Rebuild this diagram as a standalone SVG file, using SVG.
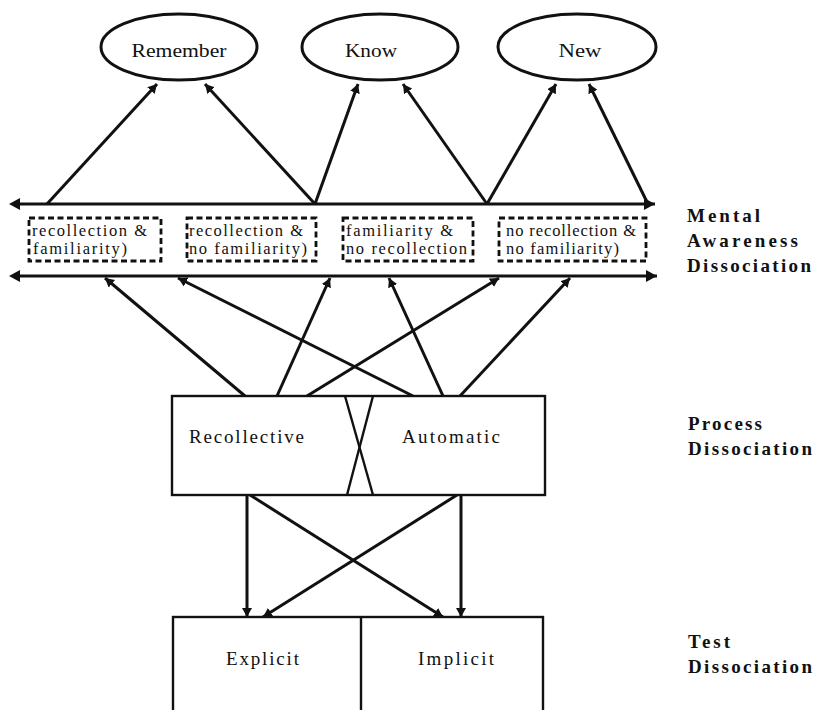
<svg xmlns="http://www.w3.org/2000/svg" width="813" height="710" viewBox="0 0 813 710">
<style>
.ln{stroke:#111;stroke-width:3;fill:none;marker-end:url(#ah)}
.hl{stroke:#111;stroke-width:3;fill:none;marker-end:url(#ahb)}
.bx{stroke:#111;stroke-width:2.4;fill:#fff}
.xl{stroke:#111;stroke-width:2.4}
.el{stroke:#111;stroke-width:3;fill:#fff}
.dash{stroke:#111;stroke-width:2.8;fill:none;stroke-dasharray:6 3.5}
.t{font-family:"Liberation Serif",serif;font-size:19px;fill:#111}
.lab{font-family:"Liberation Serif",serif;font-weight:bold;font-size:19px;fill:#111}
.bt{font-family:"Liberation Serif",serif;font-size:16.5px;fill:#111}
</style>
<defs>
<marker id="ah" markerUnits="userSpaceOnUse" markerWidth="10" markerHeight="10" refX="9" refY="5" orient="auto">
<path d="M0,0 L9,5 L0,10 Z" fill="#111"/>
</marker>
<marker id="ahb" markerUnits="userSpaceOnUse" markerWidth="12" markerHeight="12" refX="11" refY="6" orient="auto">
<path d="M0,0 L11,6 L0,12 Z" fill="#111"/>
</marker>
</defs>
<rect width="813" height="710" fill="#fff"/>

<g id="connectors">
<line class="ln" x1="47" y1="204" x2="157" y2="84"/>
<line class="ln" x1="315" y1="204" x2="205" y2="84"/>
<line class="ln" x1="315" y1="204" x2="358" y2="84"/>
<line class="ln" x1="487" y1="204" x2="403" y2="84"/>
<line class="ln" x1="487" y1="204" x2="556" y2="84"/>
<line class="ln" x1="648" y1="204" x2="589" y2="84"/>
<line class="hl" x1="20" y1="204" x2="655" y2="204"/>
<line class="hl" x1="20" y1="276" x2="657" y2="276"/>
<path d="M9,204 L20,198 L20,210 Z" fill="#111"/>
<path d="M9,276 L20,270 L20,282 Z" fill="#111"/>
<line class="ln" x1="245" y1="396" x2="105" y2="278"/>
<line class="ln" x1="413" y1="396" x2="178" y2="278"/>
<line class="ln" x1="277" y1="396" x2="330" y2="278"/>
<line class="ln" x1="443" y1="396" x2="389" y2="278"/>
<line class="ln" x1="307" y1="396" x2="499" y2="278"/>
<line class="ln" x1="460" y1="396" x2="570" y2="278"/>
<line class="ln" x1="247" y1="495" x2="247" y2="617"/>
<line class="ln" x1="461" y1="495" x2="461" y2="617"/>
<line class="ln" x1="250" y1="495" x2="443" y2="617"/>
<line class="ln" x1="457" y1="495" x2="263" y2="617"/>
</g>

<g id="remember">
<ellipse class="el" cx="179" cy="47" rx="78" ry="33"/>
<text class="t" x="179" y="57" text-anchor="middle" textLength="95" lengthAdjust="spacingAndGlyphs">Remember</text>
</g>
<g id="know">
<ellipse class="el" cx="380" cy="47" rx="78" ry="33"/>
<text class="t" x="371" y="57" text-anchor="middle" textLength="52" lengthAdjust="spacingAndGlyphs">Know</text>
</g>
<g id="new">
<ellipse class="el" cx="577" cy="47" rx="79" ry="33"/>
<text class="t" x="580" y="57" text-anchor="middle" textLength="43" lengthAdjust="spacingAndGlyphs">New</text>
</g>

<g id="box1">
<rect class="dash" x="29" y="218" width="132" height="43"/>
<text class="bt" x="32" y="236" textLength="115" lengthAdjust="spacing">recollection &amp;</text>
<text class="bt" x="33" y="254" textLength="94" lengthAdjust="spacing">familiarity)</text>
</g>
<g id="box2">
<rect class="dash" x="187" y="218" width="129" height="43"/>
<text class="bt" x="189" y="236" textLength="114" lengthAdjust="spacing">recollection &amp;</text>
<text class="bt" x="189" y="254" textLength="118" lengthAdjust="spacing">no familiarity)</text>
</g>
<g id="box3">
<rect class="dash" x="343" y="218" width="130" height="43"/>
<text class="bt" x="346" y="236" textLength="107" lengthAdjust="spacing">familiarity &amp;</text>
<text class="bt" x="346" y="254" textLength="121" lengthAdjust="spacing">no recollection</text>
</g>
<g id="box4">
<rect class="dash" x="499" y="218" width="147" height="43"/>
<text class="bt" x="506" y="236" textLength="130" lengthAdjust="spacing">no recollection &amp;</text>
<text class="bt" x="506" y="254" textLength="113" lengthAdjust="spacing">no familiarity)</text>
</g>

<g id="process">
<rect class="bx" x="172" y="396" width="373" height="99"/>
<line class="xl" x1="345" y1="396" x2="373" y2="495"/>
<line class="xl" x1="373" y1="396" x2="347" y2="495"/>
<text class="t" x="189" y="443" textLength="115" lengthAdjust="spacing">Recollective</text>
<text class="t" x="402" y="443" textLength="98" lengthAdjust="spacing">Automatic</text>
</g>

<g id="test">
<rect class="bx" x="173" y="617" width="370" height="110"/>
<line class="xl" x1="361" y1="617" x2="361" y2="712"/>
<text class="t" x="226" y="665" textLength="73" lengthAdjust="spacing">Explicit</text>
<text class="t" x="418" y="665" textLength="76" lengthAdjust="spacing">Implicit</text>
</g>

<g id="labels">
<text class="lab" x="687" y="222" textLength="73" lengthAdjust="spacing">Mental</text>
<text class="lab" x="687" y="247" textLength="111" lengthAdjust="spacing">Awareness</text>
<text class="lab" x="687" y="272" textLength="124" lengthAdjust="spacing">Dissociation</text>
<text class="lab" x="688" y="430" textLength="74" lengthAdjust="spacing">Process</text>
<text class="lab" x="688" y="455" textLength="124" lengthAdjust="spacing">Dissociation</text>
<text class="lab" x="688" y="648" textLength="42" lengthAdjust="spacing">Test</text>
<text class="lab" x="688" y="673" textLength="124" lengthAdjust="spacing">Dissociation</text>
</g>
</svg>
